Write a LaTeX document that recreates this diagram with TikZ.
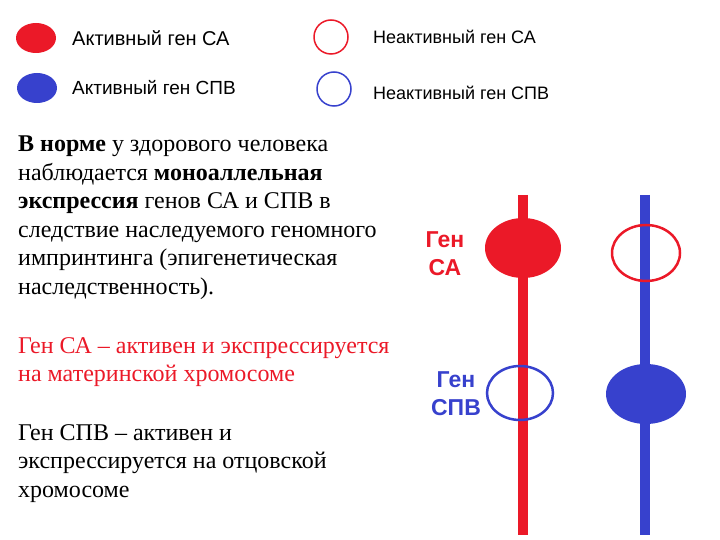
\documentclass[tikz,border=0pt]{standalone}
\usepackage{fontspec}
\setmainfont{Liberation Serif}
\setsansfont{Liberation Sans}
\begin{document}
\begin{tikzpicture}[x=1pt,y=-1pt,
  lbl/.style={anchor=west,font=\sffamily\fontsize{#1}{24}\selectfont,inner sep=0},
  para/.style={anchor=north west,align=left,inner sep=0,font=\fontsize{24}{28.5}\selectfont},
  gene/.style={font=\sffamily\bfseries\fontsize{23}{28}\selectfont,align=center}]
\definecolor{rr}{RGB}{235,25,40}
\definecolor{bb}{RGB}{55,65,205}
\useasboundingbox (0,0) rectangle (720,540);
\fill[rr] (36,38) ellipse (20 and 15);
\node[lbl=20] (t1) at (72,38) {Активный ген СА};
\fill[bb] (37,88) ellipse (20 and 15);
\node[lbl=19] (t2) at (72,88) {Активный ген СПВ};
\draw[rr,line width=1.5] (331,37) circle (17);
\node[lbl=18] (t3) at (373,37) {Неактивный ген СА};
\draw[bb,line width=1.5] (334,89) circle (17);
\node[lbl=18] (t4) at (373,93) {Неактивный ген СПВ};
\node[para] (p1) at (18,136) {\textbf{В норме} у здорового человека\\наблюдается \textbf{моноаллельная}\\\textbf{экспрессия} генов СА и СПВ в\\следствие наследуемого геномного\\импринтинга (эпигенетическая\\наследственность).};
\node[para,text=rr] (p2) at (18,337) {Ген СА – активен и экспрессируется\\на материнской хромосоме};
\node[para] (p3) at (18,424) {Ген СПВ – активен и\\экспрессируется на отцовской\\хромосоме};
\node[gene,text=rr] (g1) at (445,254) {Ген\\СА};
\node[gene,text=bb] (g2) at (456,394) {Ген\\СПВ};
\draw[rr,line width=10] (523,195) -- (523,535);
\fill[rr] (523,248) ellipse (38 and 30);
\draw[bb,line width=2.5] (520,393) ellipse (33 and 27);
\draw[bb,line width=10] (645,195) -- (645,535);
\draw[rr,line width=2.5] (646,253) ellipse (34 and 28);
\fill[bb] (646,394) ellipse (40 and 30);
\end{tikzpicture}
\end{document}
